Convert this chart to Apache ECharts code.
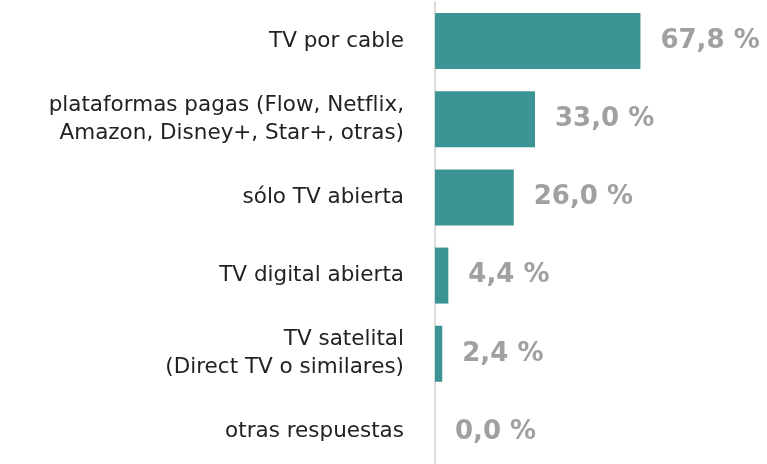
<!DOCTYPE html>
<html lang="es">
<head>
<meta charset="UTF-8">
<title>chart</title>
<style>
  html, body { margin: 0; padding: 0; background: #fff; }
  #main { width: 767px; height: 464px; }
</style>
</head>
<body>
<div id="main"></div>
<script src="https://cdn.jsdelivr.net/npm/echarts@6/dist/echarts.min.js"></script>
<script>
// categorias, de arriba hacia abajo
var categorias = [
    'TV por cable',
    'plataformas pagas (Flow, Netflix,\nAmazon, Disney+, Star+, otras)',
    'sólo TV abierta',
    'TV digital abierta',
    'TV satelital\n(Direct TV o similares)',
    'otras respuestas'
];
var valores = [67.8, 33.0, 26.0, 4.4, 2.4, 0.0];

var chart = echarts.init(document.getElementById('main'));

chart.setOption({
    backgroundColor: '#ffffff',
    animation: false,
    grid: { left: 435, top: 2, width: 303, height: 469, outerBoundsMode: 'none' },
    xAxis: {
        type: 'value',
        min: 0,
        max: 100,
        show: false
    },
    yAxis: {
        type: 'category',
        inverse: true,
        data: categorias,
        axisLine: { show: true, lineStyle: { color: '#dcdcdc', width: 2 } },
        axisTick: { show: false },
        axisLabel: {
            margin: 31,
            color: '#222222',
            fontFamily: 'DejaVu Sans',
            fontSize: 21.5,
            lineHeight: 28,
            align: 'right'
        }
    },
    series: [{
        type: 'bar',
        data: valores,
        barWidth: 56,
        itemStyle: { color: '#3d9494' },
        label: {
            show: true,
            position: 'right',
            distance: 20,
            color: '#a0a0a0',
            fontFamily: 'DejaVu Sans',
            fontWeight: 'bold',
            fontSize: 26,
            formatter: function (p) {
                return p.value.toFixed(1).replace('.', ',') + ' %';
            }
        }
    }]
});
</script>
</body>
</html>
